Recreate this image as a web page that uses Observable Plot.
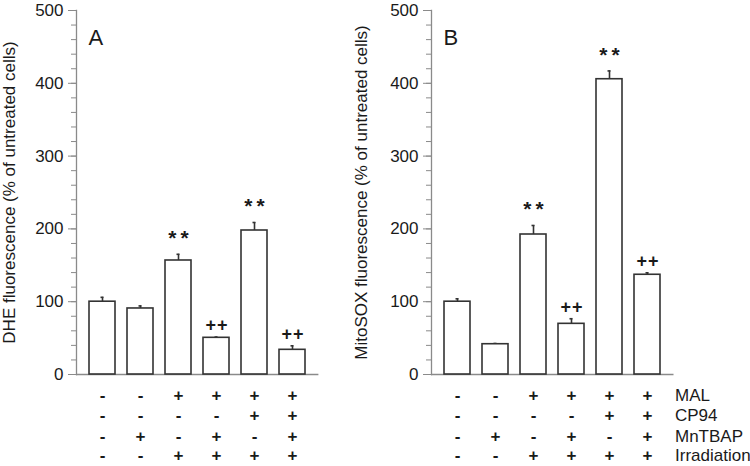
<!DOCTYPE html>
<html>
<head>
<meta charset="utf-8">
<script src="https://cdn.jsdelivr.net/npm/d3@7"></script>
<script src="https://cdn.jsdelivr.net/npm/@observablehq/plot@0.6"></script>
<style>
  html, body { margin: 0; padding: 0; background: #fff; }
  #chart { display: flex; flex-direction: row; width: 750px; height: 466px; }
  #chart svg { display: block; overflow: visible; }
  .stars text { letter-spacing: 4px; }
  .pluses text { letter-spacing: 1px; }
</style>
</head>
<body>
<div id="chart"></div>
<script>
// ---- data ----
const conds = ["c1", "c2", "c3", "c4", "c5", "c6"];
const dheMean = [100, 90.7, 156.6, 50.4, 197.8, 33.9];
const dheErr = [6, 3.5, 8.5, 1, 11, 5.5];
const dheSig = ["", "", "**", "++", "**", "++"];
const mitoMean = [100, 41.6, 192.3, 69.6, 405.6, 137];
const mitoErr = [4, 1, 12.4, 7, 11.4, 2.7];
const mitoSig = ["", "", "**", "++", "**", "++"];
const MAL = ["-", "-", "+", "+", "+", "+"];
const CP94 = ["-", "-", "-", "-", "+", "+"];
const MnTBAP = ["-", "+", "-", "+", "-", "+"];
const Irradiation = ["-", "-", "+", "+", "+", "+"];
const rowLabels = ["MAL", "CP94", "MnTBAP", "Irradiation"];
const rowSigns = [MAL, CP94, MnTBAP, Irradiation];
const yTicks = [0, 100, 200, 300, 400, 500];
const yMinorTicks = d3.range(0, 501, 20);

const FONT = "'Liberation Sans', Arial, Helvetica, sans-serif";
const AXIS = "#8a8a8a";
const INK = "#1a1a1a";
const ROW_DY = [21, 41.5, 62, 81.5];

function panel({width, marginLeft, marginRight, means, errs, sig, ylabel, letter, labelDx, showRowLabels}) {
  const data = conds.map((c, i) => ({c, v: means[i], top: means[i] + errs[i], s: sig[i]}));
  const marks = [
    Plot.ruleY([0], {stroke: AXIS, strokeWidth: 1.3}),
    Plot.frame({anchor: "left", stroke: AXIS, strokeWidth: 1.3}),
    Plot.axisY(yMinorTicks, {tickSize: 5, text: null, label: null, stroke: AXIS}),
    Plot.axisY(yTicks, {tickSize: 8, tickPadding: 5, label: null, stroke: AXIS, fill: INK, fontSize: 17}),
    Plot.ruleX(data, {x: "c", y1: "v", y2: "top", stroke: "#333", strokeWidth: 1.6}),
    Plot.tickY(data, {x: "c", y: "top", stroke: "#333", strokeWidth: 1.6, insetLeft: 14.5, insetRight: 14.5}),
    Plot.barY(data, {x: "c", y: "v", fill: "white", stroke: "#333", strokeWidth: 1.6}),
    Plot.text(data.filter(d => d.s === "**"), {x: "c", y: "top", text: "s", dy: -16, dx: 2, fontSize: 21, fontWeight: "bold", fill: INK, lineAnchor: "middle", className: "stars"}),
    Plot.text(data.filter(d => d.s === "++"), {x: "c", y: "top", text: "s", dy: -12, dx: 0.5, fontSize: 18, fontWeight: "bold", fill: INK, lineAnchor: "middle", className: "pluses"}),
    Plot.text([letter], {frameAnchor: "top-left", text: d => d, dx: 12, dy: 27, fontSize: 22, fill: INK, lineAnchor: "middle", textAnchor: "start"}),
    Plot.text([ylabel], {frameAnchor: "left", text: d => d, rotate: -90, dx: labelDx, fontSize: 17, fill: INK, lineAnchor: "middle", textAnchor: "middle"})
  ];
  rowSigns.forEach((signs, r) => {
    marks.push(Plot.text(conds.map((c, i) => ({c, t: signs[i]})), {x: "c", text: "t", frameAnchor: "bottom", dy: ROW_DY[r], fontSize: 17, fontWeight: "bold", fill: INK, lineAnchor: "middle"}));
    if (showRowLabels) {
      marks.push(Plot.text([rowLabels[r]], {frameAnchor: "bottom-right", text: d => d, dx: 1, dy: ROW_DY[r], fontSize: 17, fill: INK, lineAnchor: "middle", textAnchor: "start"}));
    }
  });
  return Plot.plot({
    width,
    height: 466,
    marginTop: 10,
    marginBottom: 92,
    marginLeft,
    marginRight,
    style: {fontFamily: FONT, background: "white", overflow: "visible"},
    x: {domain: conds, padding: 0.31, axis: null},
    y: {domain: [0, 500], axis: null},
    marks
  });
}

const chart = document.getElementById("chart");
chart.append(panel({
  width: 350, marginLeft: 76, marginRight: 31.6,
  means: dheMean, errs: dheErr, sig: dheSig,
  ylabel: "DHE fluorescence (% of untreated cells)", letter: "A", labelDx: -66.5, showRowLabels: false
}));
chart.append(panel({
  width: 400, marginLeft: 81, marginRight: 76.5,
  means: mitoMean, errs: mitoErr, sig: mitoSig,
  ylabel: "MitoSOX fluorescence (% of untreated cells)", letter: "B", labelDx: -69.5, showRowLabels: true
}));
</script>
</body>
</html>
